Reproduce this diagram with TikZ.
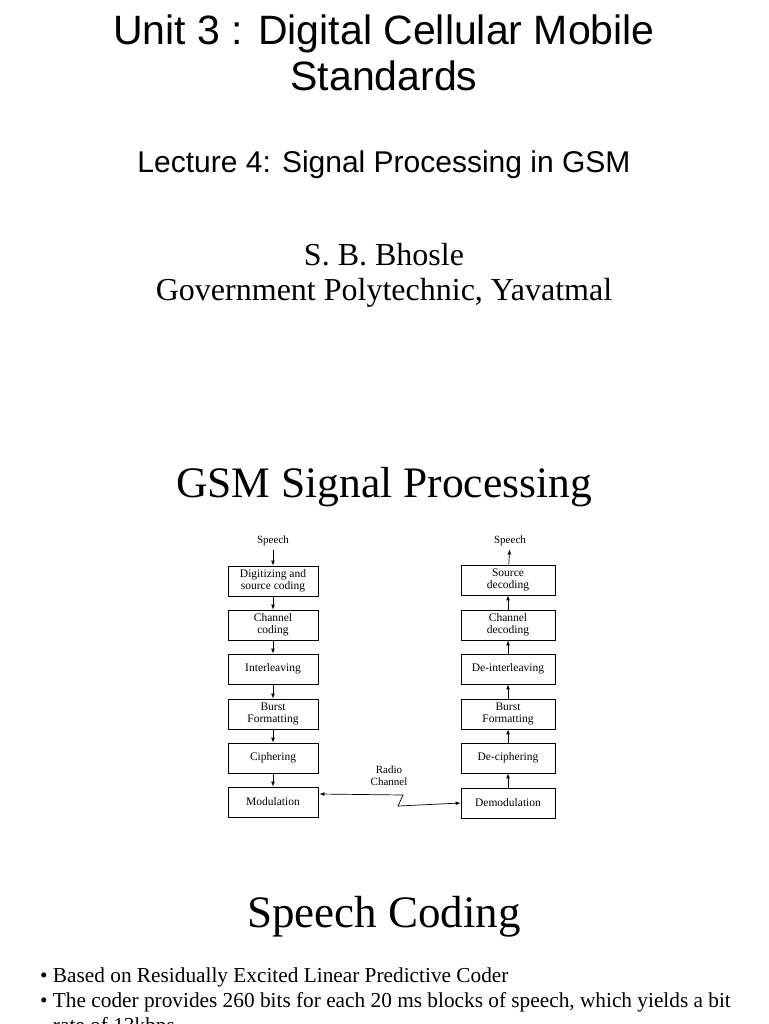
\documentclass[tikz,border=0pt]{standalone}
\usepackage{fontspec}
\setmainfont{Liberation Serif}
\newfontfamily\hsans{Liberation Sans}
\begin{document}
\begin{tikzpicture}[x=1pt,y=-1pt,
 blk/.style={draw,line width=0.8pt,minimum width=90pt,minimum height=30pt,inner sep=1pt,align=center,font=\fontsize{11.5}{12}\selectfont},
 arr/.style={-latex,line width=0.7pt}]
\clip (0,0) rectangle (768,1024);
\fill[white] (0,0) rectangle (768,1024);
\node[font=\hsans\fontsize{41}{46}\selectfont,align=center] (t1) at (384,53) {Unit 3 : Digital Cellular Mobile\\Standards};
\node[font=\hsans\fontsize{30}{32}\selectfont] (t2) at (384,165) {Lecture 4: Signal Processing in GSM};
\node[font=\fontsize{32}{35}\selectfont,align=center] (au) at (384,275) {S. B. Bhosle\\Government Polytechnic, Yavatmal};
\node[font=\fontsize{43.5}{46}\selectfont] (h1) at (384,487) {GSM Signal Processing};
\node[font=\fontsize{45}{48}\selectfont] (h2) at (384,917) {Speech Coding};
\foreach \n/\t/\y in {a/{Digitizing and\\source coding}/581,b/{Channel\\coding}/625,c/Interleaving/669,d/{Burst\\Formatting}/714,e/Ciphering/758,f/Modulation/802}
 \node[blk] (\n) at (273,\y) {\t};
\foreach \n/\t/\y in {g/{Source\\decoding}/580,h/{Channel\\decoding}/625,i/De-interleaving/669,j/{Burst\\Formatting}/714,k/De-ciphering/758,l/Demodulation/803}
 \node[blk,minimum width=94pt] (\n) at (508,\y) {\t};
\node[font=\fontsize{11}{11}\selectfont] (s1) at (273,541) {Speech};
\node[font=\fontsize{11}{11}\selectfont] (s2) at (510,541) {Speech};
\node[font=\fontsize{11}{12}\selectfont,align=center] (rc) at (389,776) {Radio\\Channel};
\draw[arr] (s1) -- (a); \draw[arr] (a) -- (b); \draw[arr] (b) -- (c);
\draw[arr] (c) -- (d); \draw[arr] (d) -- (e); \draw[arr] (e) -- (f);
\draw[arr] (l) -- (k); \draw[arr] (k) -- (j); \draw[arr] (j) -- (i);
\draw[arr] (i) -- (h); \draw[arr] (h) -- (g); \draw[arr] (g) -- (s2);
\coordinate (z1) at (403,795); \coordinate (z2) at (398,806);
\draw[latex-latex,line width=0.7pt] ([xshift=1pt,yshift=8pt]f.east) -- (z1) -- (z2) -- (l.west);
\node[font=\fontsize{21.3}{25}\selectfont,align=justify,anchor=north west,text width=722pt,inner sep=0pt] (bl) at (40,968) {%
\textbullet\ Based on Residually Excited Linear Predictive Coder\\
\textbullet\ The coder provides 260 bits for each 20 ms blocks of speech, which yields a bit\\
\phantom{\textbullet\ }rate of 13kbps};
\end{tikzpicture}
\end{document}
